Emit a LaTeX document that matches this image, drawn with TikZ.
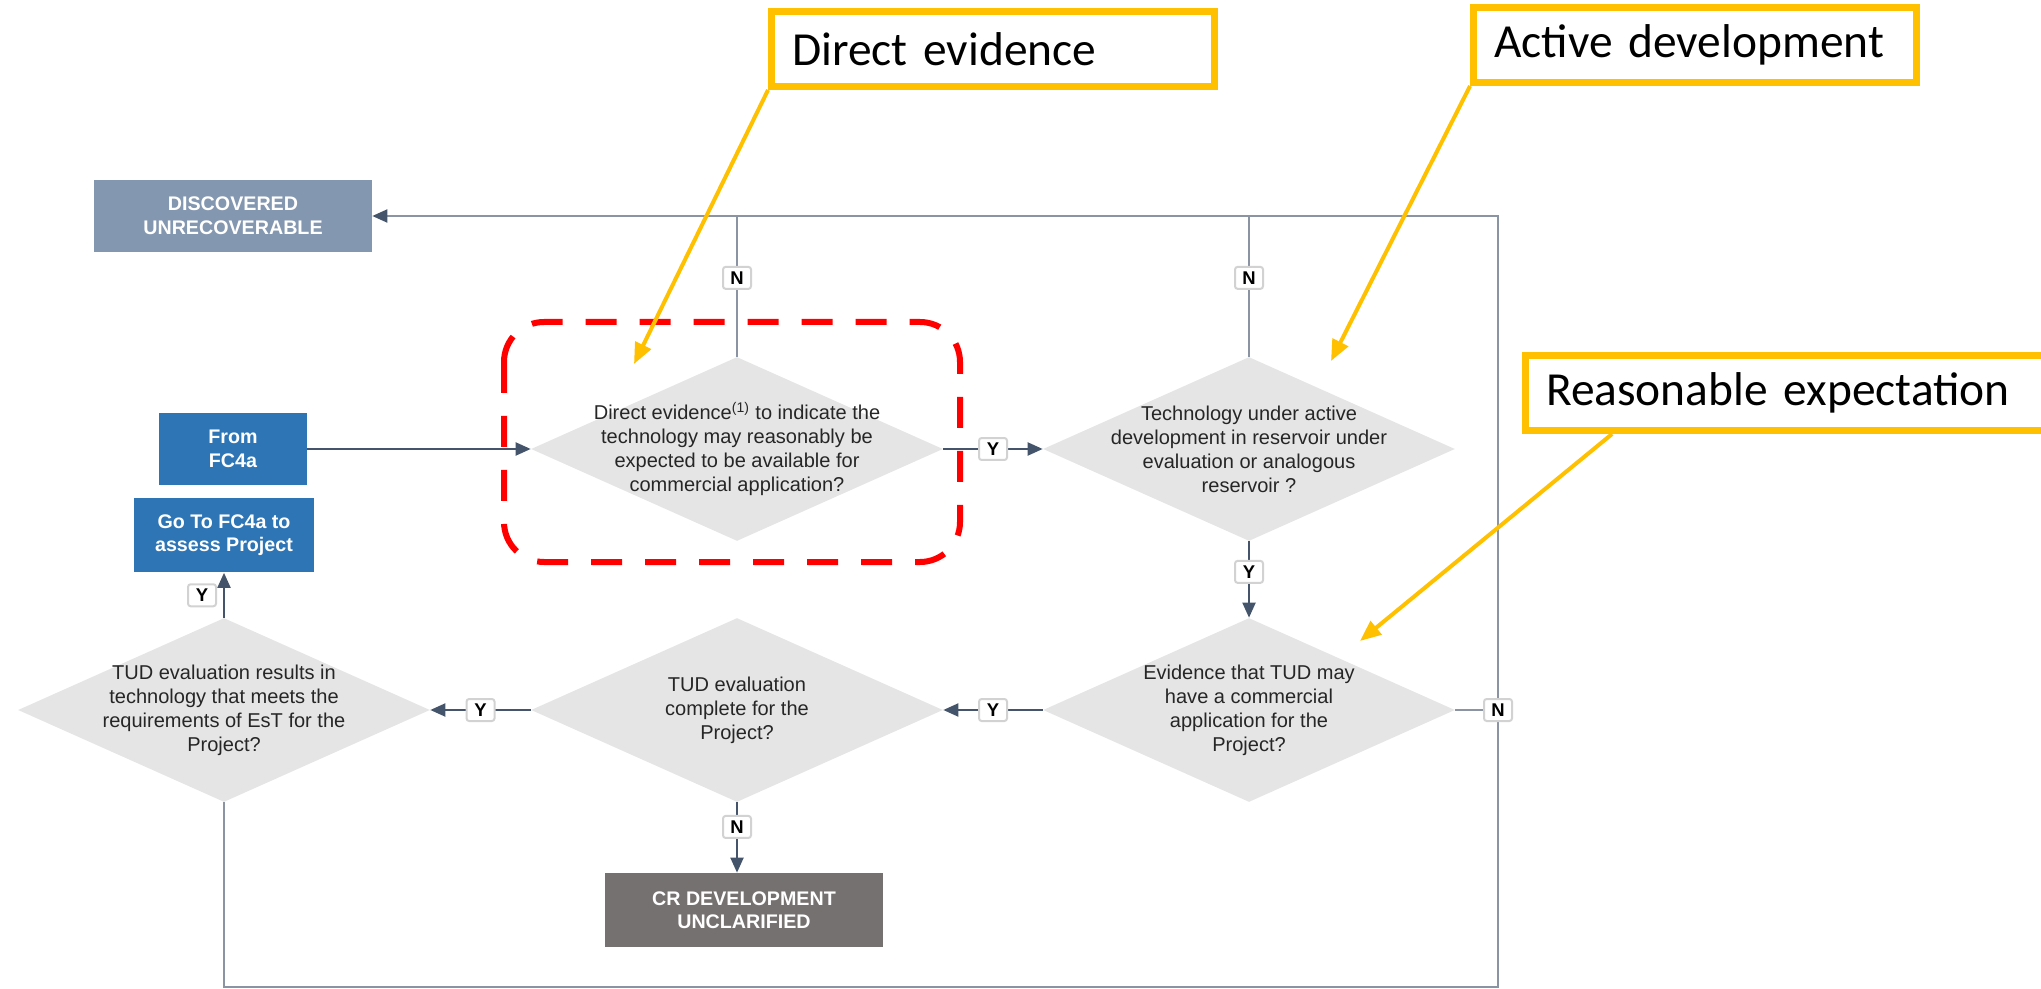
\documentclass[tikz,border=0pt]{standalone}
\usepackage{fontspec}
\setmainfont{Liberation Sans}
\newfontfamily\calloutfont{Carlito}
\usetikzlibrary{shapes.geometric,arrows.meta}
\definecolor{decgray}{RGB}{229,229,229}
\definecolor{unrecblue}{RGB}{132,151,176}
\definecolor{fcblue}{RGB}{46,117,182}
\definecolor{crgray}{RGB}{118,113,113}
\definecolor{linedark}{RGB}{68,84,106}
\definecolor{linelight}{RGB}{138,148,163}
\definecolor{calloutyellow}{RGB}{255,192,0}
\definecolor{txtdark}{RGB}{38,38,38}

\begin{document}
\begin{tikzpicture}[x=0.02cm,y=-0.02cm,
	dec/.style={diamond,fill=decgray,minimum width=8.24cm,minimum height=3.68cm,inner sep=0pt},
	dectext/.style={align=center,text=txtdark,font=\fontsize{11.4}{13.7}\selectfont},
	outbox/.style={rectangle,text=white,align=center,font=\fontsize{11.2}{13.4}\selectfont\bfseries,inner sep=0pt},
	yn/.style={rectangle,draw=gray!35,fill=white,rounded corners=1.5pt,font=\fontsize{10.5}{12}\selectfont\bfseries,minimum width=0.56cm,minimum height=0.44cm,inner sep=0pt},
	flow/.style={draw=linedark,line width=0.04cm,-{Triangle[length=0.3cm,width=0.26cm]}},
	backline/.style={draw=linelight,line width=0.04cm},
	notebox/.style={rectangle,draw=calloutyellow,line width=0.14cm,fill=white,font=\calloutfont\fontsize{27}{32}\selectfont,align=left,inner xsep=0.41cm,minimum height=1.5cm},
	pointer/.style={draw=calloutyellow,line width=0.08cm,-{Triangle[length=0.42cm,width=0.34cm]}}]
	\useasboundingbox (0,0) rectangle (2041,989);

	\node[outbox,fill=unrecblue,minimum width=5.56cm,minimum height=1.46cm] (du) at (233,216) {DISCOVERED\\UNRECOVERABLE};
	\node[outbox,fill=fcblue,minimum width=2.96cm,minimum height=1.44cm] (fc) at (233,449) {From\\FC4a};
	\node[outbox,fill=fcblue,minimum width=3.62cm,minimum height=1.5cm] (goto) at (224,535) {Go To FC4a to\\assess Project};
	\node[outbox,fill=crgray,minimum width=5.56cm,minimum height=1.48cm] (cr) at (744,910) {CR DEVELOPMENT\\UNCLARIFIED};

	\node[dec] (d1) at (737,449) {};
	\node[dec] (d2) at (1249,449) {};
	\node[dec] (d3) at (1249,710) {};
	\node[dec] (d4) at (737,710) {};
	\node[dec] (d5) at (224,710) {};
	\node[dectext] (d1t) at (d1) {Direct evidence\textsuperscript{(1)} to indicate the\\technology may reasonably be\\expected to be available for\\commercial application?};
	\node[dectext] (d2t) at (d2) {Technology under active\\development in reservoir under\\evaluation or analogous\\reservoir ?};
	\node[dectext] (d3t) at (d3) {Evidence that TUD may\\have a commercial\\application for the\\Project?};
	\node[dectext] (d4t) at (d4) {TUD evaluation\\complete for the\\Project?};
	\node[dectext] (d5t) at (d5) {TUD evaluation results in\\technology that meets the\\requirements of EsT for the\\Project?};

	\coordinate (tr) at (1498,216);
	\coordinate (br) at (1498,987);

	\draw[backline,-{Triangle[length=0.3cm,width=0.26cm,color=linedark]}] (d5.south) |- (br) |- (du.east);
	\draw[backline] (d1.north) -- node[yn,pos=0.56]{N} (d1.north |- tr);
	\draw[backline] (d2.north) -- node[yn,pos=0.56]{N} (d2.north |- tr);
	\draw[backline] (d3.east) -- (d3.east -| br) node[yn]{N};
	\draw[flow] (fc) -- (d1);
	\draw[flow] (d1) -- node[yn]{Y} (d2);
	\draw[flow] (d2) -- node[yn,pos=0.4]{Y} (d3);
	\draw[flow] (d3) -- node[yn]{Y} (d4);
	\draw[flow] (d4) -- node[yn]{Y} (d5);
	\draw[flow] (d5) -- node[yn,left=0.14cm]{Y} (goto);
	\draw[flow] (d4.south) -- node[yn,pos=0.35]{N} (d4.south |- cr.north);

	\draw[draw=red,line width=0.12cm,dash pattern=on 0.62cm off 0.46cm,rounded corners=0.8cm] (504,322) rectangle (960,562);

	\node[notebox,text width=8.04cm] (de) at (993,49) {Direct evidence};
	\node[notebox,text width=8.04cm] (ad) at (1695,45) {Active development};
	\node[notebox,text width=10.08cm] (re) at (1798,393) {Reasonable expectation};
	\coordinate (detip) at (634,364);
	\coordinate (adtip) at (1331,361);
	\coordinate (retip) at (1360,641);
	\draw[pointer] (de.south west) -- (detip);
	\draw[pointer] (ad.south west) -- (adtip);
	\draw[pointer] ([xshift=1.8cm]re.south west) -- (retip);
\end{tikzpicture}
\end{document}
